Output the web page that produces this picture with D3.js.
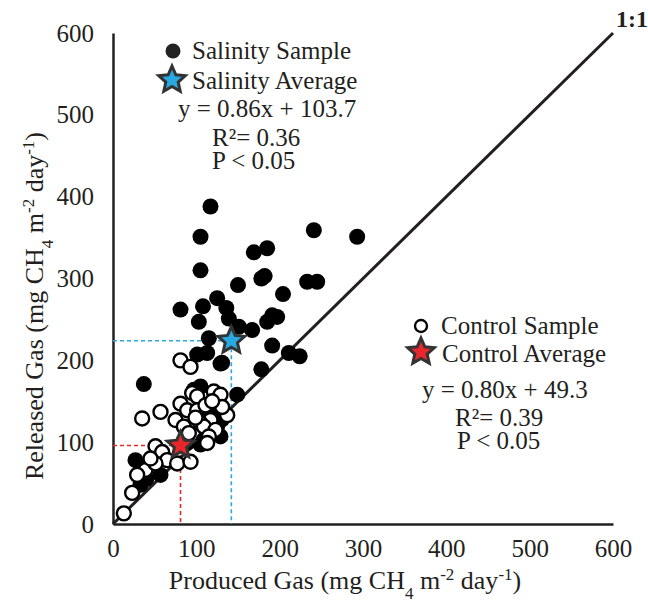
<!DOCTYPE html>
<html>
<head>
<meta charset="utf-8">
<script src="https://cdn.jsdelivr.net/npm/d3@7"></script>
<style>
  body { margin: 0; background: #fff; }
  svg text { font-family: "Liberation Serif", "Times New Roman", serif; fill: #231f20; }
</style>
</head>
<body>
<div id="chart"></div>
<script>
"use strict";
(function() {

const WIDTH = 648
const HEIGHT = 604

const margin = { top: 33, bottom: 80, left: 113, right: 36 }

const BLUE = "#29a9e1"
const RED = "#e8262b"
const INK = "#231f20"
const FONT = "25px"

const TICKS = [0, 100, 200, 300, 400, 500, 600]

// Salinity samples [produced, released]
const salinity = [
  [117,388],[105,351],[105,310],[169,332],[185,337],[241,359],[293,351],
  [178,300],[182,303],[150,292],[204,281],[233,296],[245,296],
  [81,262],[108,266],[125,276],[136,264],[103,247],[139,251],[151,241],[167,237],
  [185,247],[191,255],[197,253],[115,227],[101,207],[113,209],[131,197],[191,218],
  [178,189],[211,209],[224,205],[37,171],[149,158],[97,164],[105,168],[129,196],
  [113,139],[121,143],[125,119],[129,107],[117,130],[109,103],[89,99],[105,97],
  [27,78],[57,60],[33,48],[40,55],[131,128],[121,112]
]

// Control samples [produced, released]
const control = [
  [81,200],[93,192],[57,137],[35,129],[81,147],[95,160],[101,156],[121,162],[129,158],
  [89,139],[101,139],[117,127],[137,133],[75,127],[85,119],[105,123],[109,119],
  [123,115],[115,107],[91,111],[113,99],[51,95],[59,88],[65,78],[77,74],[93,76],
  [39,66],[51,74],[29,60],[23,38],[13,13],[45,80],[99,130],[111,145],[131,143],[119,150]
]

const salinityAvg = [142, 224]
const controlAvg = [81, 96]

const salinityStats = ["y = 0.86x + 103.7", "R\u00b2= 0.36", "P < 0.05"]
const controlStats = ["y = 0.80x + 49.3", "R\u00b2= 0.39", "P < 0.05"]

let x_scale = d3.scaleLinear().domain([0, 600]).range([margin.left, WIDTH - margin.right + 1]);
let y_scale = d3.scaleLinear().domain([0, 600]).range([HEIGHT - margin.bottom, margin.top]);

var svg = d3.select("#chart").append("svg")
    .attr("width", WIDTH)
    .attr("height", HEIGHT);

function starPath(R, r) {
    let pts = [];
    for (let i = 0; i < 10; i++) {
        let a = -Math.PI / 2 + i * Math.PI / 5;
        let rad = i % 2 === 0 ? R : r;
        pts.push([rad * Math.cos(a), rad * Math.sin(a)]);
    }
    return "M" + pts.map(p => p.join(",")).join("L") + "Z";
}

// axes
let xAxis = svg.append("g")
    .attr("transform", `translate(0, ${y_scale(0)})`)
    .call(d3.axisBottom(x_scale).tickValues(TICKS).tickSize(0).tickPadding(15));
let yAxis = svg.append("g")
    .attr("transform", `translate(${x_scale(0)}, 0)`)
    .call(d3.axisLeft(y_scale).tickValues(TICKS).tickSize(0).tickPadding(19));

[xAxis, yAxis].forEach(g => {
    g.select(".domain").attr("stroke", INK).attr("stroke-width", 2.5);
    g.selectAll("text")
        .style("font-family", '"Liberation Serif", serif')
        .style("font-size", FONT)
        .attr("fill", INK);
});

// guide lines to the averages
function guides(avg, color) {
    svg.append("path")
        .attr("d", `M${x_scale(0)},${y_scale(avg[1])}H${x_scale(avg[0])}V${y_scale(0)}`)
        .attr("fill", "none")
        .attr("stroke", color)
        .attr("stroke-width", 1.6)
        .attr("stroke-dasharray", "4,3");
}
guides(salinityAvg, BLUE)
guides(controlAvg, RED)

// 1:1 line
var line = d3.line()
    .x(d => x_scale(d[0]))
    .y(d => y_scale(d[1]));

svg.append("path")
    .attr("d", line([[0, 0], [600, 600]]))
    .attr("stroke", INK)
    .attr("stroke-width", 3)
    .attr("fill", "none");

svg.append("text")
    .attr("x", x_scale(600) + 3)
    .attr("y", y_scale(600) - 6)
    .style("font-size", "24px")
    .style("font-weight", "bold")
    .text("1:1");

// points
svg.append("g").selectAll("circle")
    .data(salinity)
    .join("circle")
    .attr("cx", d => x_scale(d[0]))
    .attr("cy", d => y_scale(d[1]))
    .attr("r", 8)
    .attr("fill", "#000");

svg.append("g").selectAll("circle")
    .data(control)
    .join("circle")
    .attr("cx", d => x_scale(d[0]))
    .attr("cy", d => y_scale(d[1]))
    .attr("r", 7)
    .attr("fill", "#fff")
    .attr("stroke", "#000")
    .attr("stroke-width", 2.4);

function star(cx, cy, color) {
    svg.append("path")
        .attr("d", starPath(14, 6.5))
        .attr("transform", `translate(${cx},${cy})`)
        .attr("fill", color)
        .attr("stroke", "#333")
        .attr("stroke-width", 3)
        .attr("stroke-linejoin", "miter");
}
star(x_scale(salinityAvg[0]), y_scale(salinityAvg[1]), BLUE)
star(x_scale(controlAvg[0]), y_scale(controlAvg[1]), RED)

// legends and stats
function label(x, y, str) {
    return svg.append("text").attr("x", x).attr("y", y).style("font-size", FONT).text(str);
}

svg.append("circle").attr("cx", 173).attr("cy", 51).attr("r", 7.5).attr("fill", "#222");
label(192, 59, "Salinity Sample")
star(172, 80, BLUE)
label(192, 89, "Salinity Average")
label(178, 117, salinityStats[0])
label(212, 146, salinityStats[1])
label(212, 169, salinityStats[2])

svg.append("circle").attr("cx", 421).attr("cy", 326).attr("r", 6).attr("fill", "#fff")
    .attr("stroke", "#000").attr("stroke-width", 2.4);
label(441, 334, "Control Sample")
star(421, 352, RED)
label(442, 362, "Control Average")
label(422, 398, controlStats[0])
label(455, 426, controlStats[1])
label(457, 449, controlStats[2])

// axis titles
function title(sel, lead) {
    sel.append("tspan").text(lead + " (mg CH");
    sel.append("tspan").attr("baseline-shift", "sub").style("font-size", "17px").text("4");
    sel.append("tspan").text(" m");
    sel.append("tspan").attr("baseline-shift", "super").style("font-size", "17px").text("-2");
    sel.append("tspan").text(" day");
    sel.append("tspan").attr("baseline-shift", "super").style("font-size", "17px").text("-1");
    sel.append("tspan").text(")");
}

let xt = svg.append("text")
    .attr("x", 345).attr("y", 589)
    .attr("text-anchor", "middle")
    .style("font-size", "26px");
title(xt, "Produced Gas")

let yt = svg.append("text")
    .attr("transform", "translate(43, 306) rotate(-90)")
    .attr("text-anchor", "middle")
    .style("font-size", "26px");
title(yt, "Released Gas")

})();
</script>
</body>
</html>
